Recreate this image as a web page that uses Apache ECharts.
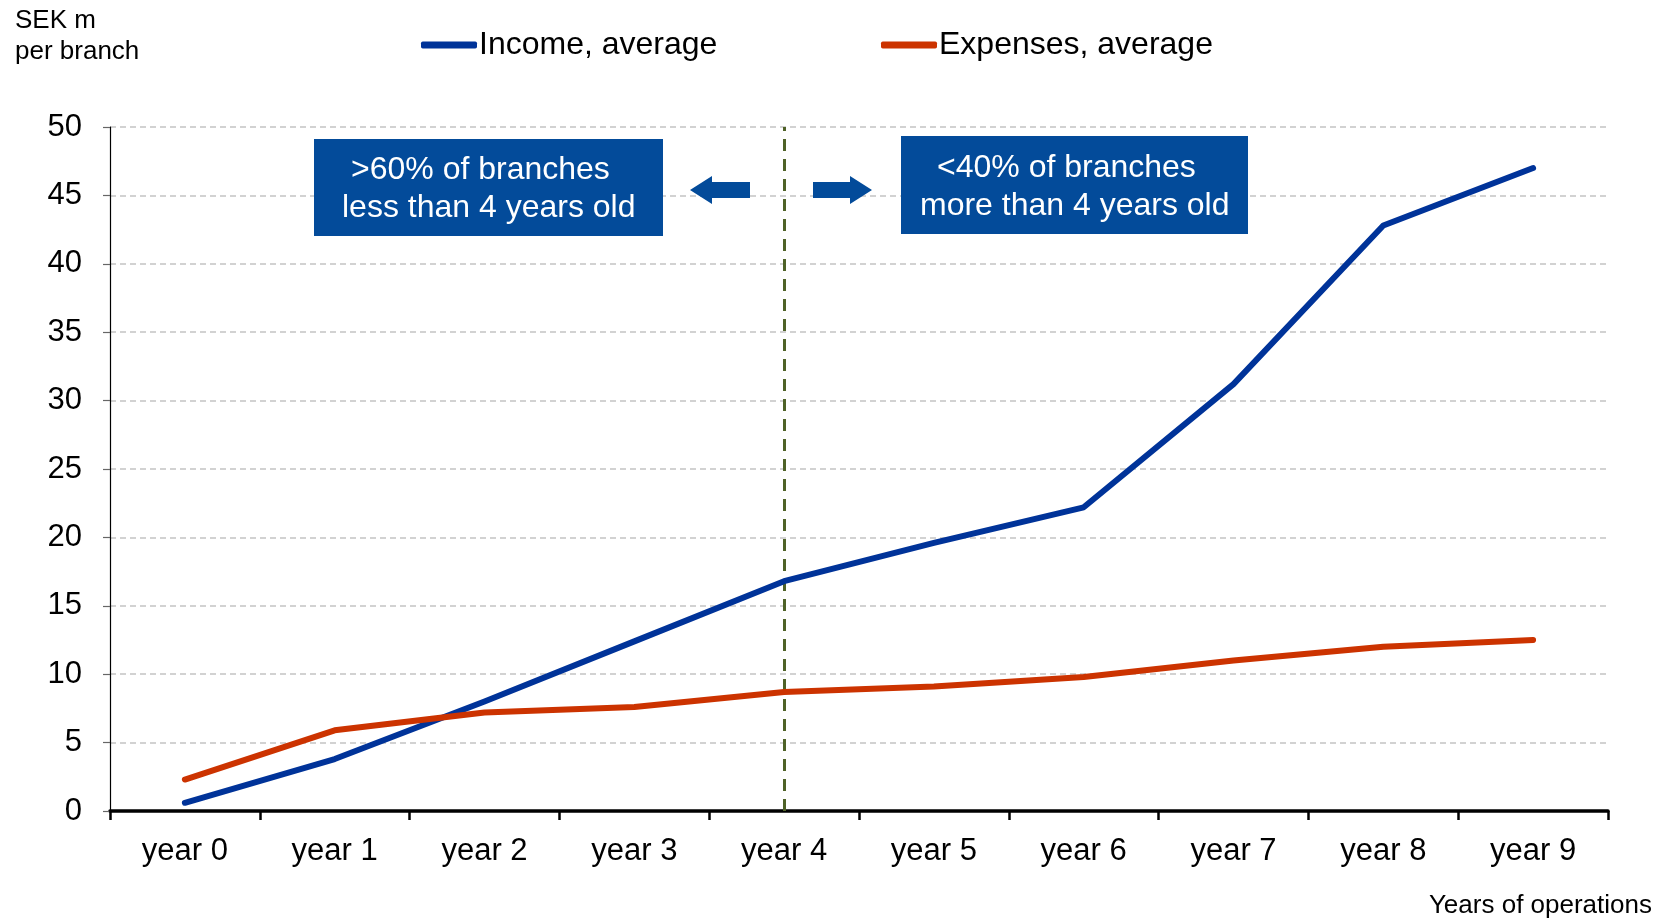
<!DOCTYPE html>
<html>
<head>
<meta charset="utf-8">
<title>Income and expenses per branch</title>
<script src="https://cdn.jsdelivr.net/npm/echarts@6/dist/echarts.min.js"></script>
<style>
  html, body { margin: 0; padding: 0; background: #ffffff; }
  #chart { width: 1666px; height: 920px; }
</style>
</head>
<body>
<div id="chart"></div>
<script>
// Years of operations
const categories = ['year 0', 'year 1', 'year 2', 'year 3', 'year 4', 'year 5', 'year 6', 'year 7', 'year 8', 'year 9'];
// SEK m per branch
const incomeAverage = [0.6, 3.8, 8.0, 12.4, 16.8, 19.6, 22.2, 31.2, 42.8, 47.0];
const expensesAverage = [2.3, 5.9, 7.2, 7.6, 8.7, 9.1, 9.8, 11.0, 12.0, 12.5];
const seriesNames = ['Income, average', 'Expenses, average'];
const splitCategory = 'year 4';
const yTicks = { min: 0, max: 50, interval: 5 };

const FONT = '"Liberation Sans", Arial, Helvetica, sans-serif';
const BLUE = '#003399';
const RED = '#cc3300';
const BOX = '#034b9a';

const chart = echarts.init(document.getElementById('chart'), null, { renderer: 'canvas' });

const legendCommon = {
  orient: 'horizontal',
  icon: 'roundRect',
  itemWidth: 56,
  itemHeight: 7,
  itemGap: 0,
  selectedMode: false,
  textStyle: { fontFamily: FONT, fontSize: 32, color: '#000', padding: [0, 0, 0, -3] }
};

// block arrow shape: pointing left (dir = -1) or right (dir = 1)
function arrow(x0, x1, cy, dir) {
  const headLen = 22, headHalf = 14, shaftHalf = 8;
  let pts;
  if (dir < 0) {
    pts = [[x0, cy], [x0 + headLen, cy - headHalf], [x0 + headLen, cy - shaftHalf], [x1, cy - shaftHalf],
           [x1, cy + shaftHalf], [x0 + headLen, cy + shaftHalf], [x0 + headLen, cy + headHalf]];
  } else {
    pts = [[x1, cy], [x1 - headLen, cy - headHalf], [x1 - headLen, cy - shaftHalf], [x0, cy - shaftHalf],
           [x0, cy + shaftHalf], [x1 - headLen, cy + shaftHalf], [x1 - headLen, cy + headHalf]];
  }
  return { type: 'polygon', shape: { points: pts }, style: { fill: BOX }, z: 10 };
}

function boxText(x, y, text) {
  return {
    type: 'text', left: x, top: y, z: 11,
    style: { text: text, fill: '#ffffff', font: '32px ' + FONT }
  };
}

chart.setOption({
  animation: false,
  backgroundColor: '#ffffff',
  grid: { left: 110, right: 58, top: 127, bottom: 109, containLabel: false },
  legend: [
    Object.assign({ data: [seriesNames[0]], left: 416, top: 24 }, legendCommon),
    Object.assign({ data: [seriesNames[1]], left: 876, top: 24 }, legendCommon)
  ],
  xAxis: {
    type: 'category',
    data: categories,
    boundaryGap: true,
    axisLine: { show: true, lineStyle: { color: '#000', width: 3.5 } },
    axisTick: { show: true, alignWithLabel: false, inside: false, length: 9, lineStyle: { color: '#000', width: 2.5 } },
    axisLabel: { fontFamily: FONT, fontSize: 31, color: '#000', margin: 25 },
    splitLine: { show: false }
  },
  yAxis: {
    type: 'value',
    min: yTicks.min,
    max: yTicks.max,
    interval: yTicks.interval,
    axisLine: { show: true, lineStyle: { color: '#000', width: 1.2 } },
    axisTick: { show: true, length: 7, lineStyle: { color: '#666', width: 1.2 } },
    axisLabel: { fontFamily: FONT, fontSize: 31, color: '#000', margin: 28 },
    splitLine: { show: true, lineStyle: { color: '#c4c4c4', width: 1.6, type: [6, 4] } }
  },
  series: [
    {
      name: seriesNames[0],
      type: 'line',
      data: incomeAverage,
      symbol: 'none',
      smooth: false,
      color: BLUE,
      lineStyle: { width: 6, color: BLUE, cap: 'round', join: 'round' },
      z: 3,
      markLine: {
        silent: true,
        symbol: ['none', 'none'],
        label: { show: false },
        lineStyle: { color: '#4f6228', width: 3, type: [12, 8] },
        data: [{ xAxis: splitCategory }],
        z: 2
      }
    },
    {
      name: seriesNames[1],
      type: 'line',
      data: expensesAverage,
      symbol: 'none',
      smooth: false,
      color: RED,
      lineStyle: { width: 6, color: RED, cap: 'round', join: 'round' },
      z: 3
    }
  ],
  graphic: [
    {
      type: 'text', left: 15, top: 5,
      style: { text: 'SEK m\nper branch', fill: '#000', font: '26px ' + FONT, lineHeight: 31 }
    },
    {
      type: 'text', right: 14, top: 893,
      style: { text: 'Years of operations', fill: '#000', font: '26px ' + FONT }
    },
    { type: 'rect', shape: { x: 314, y: 139, width: 349, height: 97 }, style: { fill: BOX }, z: 10 },
    boxText(351, 154, '>60% of branches'),
    boxText(342, 192, 'less than 4 years old'),
    { type: 'rect', shape: { x: 901, y: 136, width: 347, height: 98 }, style: { fill: BOX }, z: 10 },
    boxText(937, 152, '<40% of branches'),
    boxText(920, 190, 'more than 4 years old'),
    arrow(690, 750, 190, -1),
    arrow(813, 872, 190, 1)
  ]
});
</script>
</body>
</html>
